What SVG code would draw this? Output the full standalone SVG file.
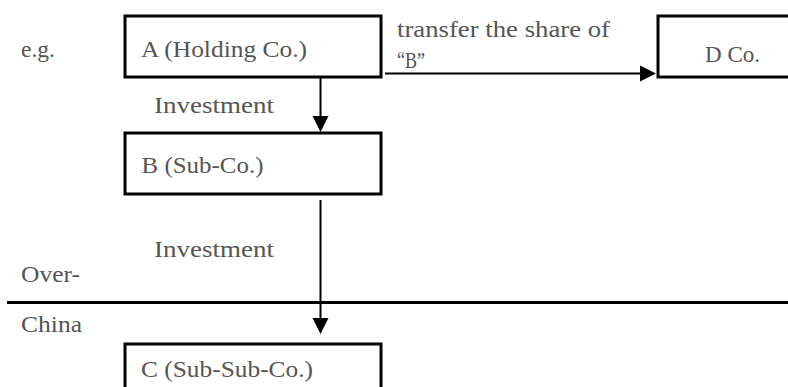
<svg xmlns="http://www.w3.org/2000/svg" width="788" height="387" viewBox="0 0 788 387">
<defs>
<style>
.box{fill:#fff;stroke:#000;stroke-width:3}
.t{font-family:"Liberation Serif","DejaVu Serif",serif;font-size:24px;fill:#555}
.ln{stroke:#000;stroke-width:2;fill:none}
</style>
</defs>
<rect width="788" height="387" fill="#fff"/>
<text class="t" x="21" y="57" textLength="34" lengthAdjust="spacingAndGlyphs">e.g.</text>
<text class="t" x="21" y="282" textLength="59" lengthAdjust="spacingAndGlyphs">Over-</text>
<text class="t" x="21" y="332" textLength="61" lengthAdjust="spacingAndGlyphs">China</text>
<g id="connectors">
<line class="ln" x1="320.5" y1="78" x2="320.5" y2="118"/>
<path d="M312.5,116 L328.5,116 L320.5,132 Z" fill="#000"/>
<line class="ln" x1="320.5" y1="200" x2="320.5" y2="320"/>
<path d="M312.5,318 L328.5,318 L320.5,334 Z" fill="#000"/>
<line class="ln" x1="385" y1="73.5" x2="642" y2="73.5"/>
<path d="M640,65.5 L656,73.5 L640,81.5 Z" fill="#000"/>
<line x1="7" y1="302.5" x2="788" y2="302.5" stroke="#000" stroke-width="3"/>
<text class="t" x="154" y="113" textLength="120" lengthAdjust="spacingAndGlyphs">Investment</text>
<text class="t" x="154" y="257" textLength="120" lengthAdjust="spacingAndGlyphs">Investment</text>
<text class="t" x="397" y="37" textLength="213" lengthAdjust="spacingAndGlyphs">transfer the share of</text>
<text class="t" x="397" y="68" textLength="28" lengthAdjust="spacingAndGlyphs">“B”</text>
</g>
<g id="nodeA">
<rect class="box" x="125" y="16" width="256" height="61"/>
<text class="t" x="141" y="57" textLength="166" lengthAdjust="spacingAndGlyphs">A (Holding Co.)</text>
</g>
<g id="nodeB">
<rect class="box" x="125" y="133" width="256" height="61"/>
<text class="t" x="141.5" y="173" textLength="122" lengthAdjust="spacingAndGlyphs">B (Sub-Co.)</text>
</g>
<g id="nodeC">
<rect class="box" x="125" y="344" width="256" height="61"/>
<text class="t" x="141" y="377" textLength="172" lengthAdjust="spacingAndGlyphs">C (Sub-Sub-Co.)</text>
</g>
<g id="nodeD">
<rect class="box" x="658" y="16" width="150" height="61"/>
<text class="t" x="705" y="62" textLength="55" lengthAdjust="spacingAndGlyphs">D Co.</text>
</g>
</svg>
